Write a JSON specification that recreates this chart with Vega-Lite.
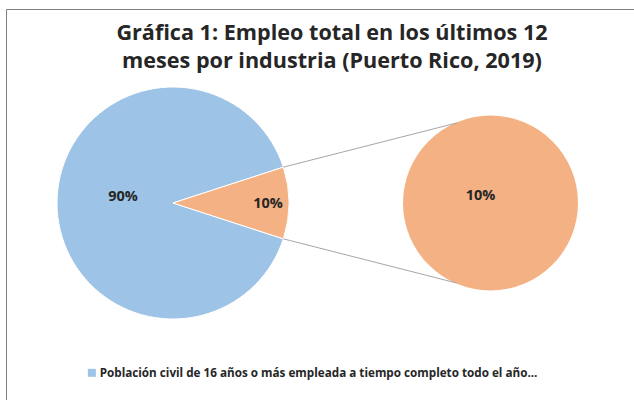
{
  "$schema": "https://vega.github.io/schema/vega-lite/v6.json",
  "width": 628,
  "height": 391,
  "autosize": {"type": "none"},
  "padding": {"left": 6, "top": 9, "right": 0, "bottom": 0},
  "background": "white",
  "config": {
    "view": {"stroke": "#7f7f7f", "strokeWidth": 1},
    "font": "Open Sans"
  },
  "title": {
    "text": ["Gráfica 1: Empleo total en los últimos 12", "meses por industria (Puerto Rico, 2019)"],
    "font": "Open Sans",
    "fontSize": 21.6,
    "fontWeight": "bold",
    "color": "#262626",
    "anchor": "middle",
    "frame": "group",
    "lineHeight": 28,
    "offset": -64,
    "dx": 12
  },
  "datasets": {
    "shares": [
      {"cat": "Población civil de 16 años o más empleada a tiempo completo todo el año...", "share": 0.9},
      {"cat": "Otra población civil empleada", "share": 0.1}
    ]
  },
  "data": {"name": "shares"},
  "encoding": {
    "x": {"datum": 0, "type": "quantitative", "scale": {"domain": [-1.4397, 3.9741], "nice": false, "zero": false}, "axis": null},
    "y": {"datum": 0, "type": "quantitative", "scale": {"domain": [-1.6983, 1.6724], "nice": false, "zero": false}, "axis": null}
  },
  "resolve": {"scale": {"theta": "independent"}},
  "layer": [
    {
      "mark": {"type": "arc", "outerRadius": 116, "stroke": "white", "strokeWidth": 1},
      "encoding": {
        "theta": {"field": "share", "type": "quantitative", "stack": true, "scale": {"range": [1.2566, 7.5398]}},
        "order": {"field": "cat", "sort": "ascending"},
        "color": {
          "field": "cat",
          "type": "nominal",
          "scale": {
            "domain": ["Población civil de 16 años o más empleada a tiempo completo todo el año...", "Otra población civil empleada"],
            "range": ["#9DC3E6", "#F4B183"]
          },
          "legend": {
            "values": ["Población civil de 16 años o más empleada a tiempo completo todo el año..."],
            "title": null,
            "orient": "none",
            "legendX": 80,
            "legendY": 358,
            "symbolType": "square",
            "symbolSize": 64,
            "symbolStrokeWidth": 0,
            "labelFont": "Open Sans",
            "labelFontSize": 11.7,
            "labelFontWeight": "bold",
            "labelColor": "#262626",
            "labelLimit": 600,
            "labelOffset": 2,
            "padding": 0
          }
        }
      }
    },
    {
      "mark": {"type": "text", "radius": 50, "dy": -6, "font": "Open Sans", "fontSize": 14.5, "fontWeight": "bold", "color": "#262626"},
      "encoding": {
        "theta": {"field": "share", "type": "quantitative", "stack": true, "scale": {"range": [1.2566, 7.5398]}},
        "order": {"field": "cat", "sort": "ascending"},
        "text": {"condition": {"test": "datum.share > 0.5", "field": "share", "format": ".0%"}, "value": ""}
      }
    },
    {
      "mark": {"type": "text", "radius": 95, "dy": 1, "font": "Open Sans", "fontSize": 14.5, "fontWeight": "bold", "color": "#262626"},
      "encoding": {
        "theta": {"field": "share", "type": "quantitative", "stack": true, "scale": {"range": [1.2566, 7.5398]}},
        "order": {"field": "cat", "sort": "ascending"},
        "text": {"condition": {"test": "datum.share < 0.5", "field": "share", "format": ".0%"}, "value": ""}
      }
    },
    {
      "transform": [{"filter": "datum.share < 0.5"}],
      "mark": {"type": "arc", "outerRadius": 87.5},
      "encoding": {
        "x": {"datum": 2.737, "type": "quantitative"},
        "theta": {"field": "share", "type": "quantitative", "stack": true},
        "color": {"field": "cat", "type": "nominal"}
      }
    },
    {
      "transform": [{"filter": "datum.share < 0.5"}],
      "mark": {"type": "text", "dx": -10, "dy": -7, "font": "Open Sans", "fontSize": 14.5, "fontWeight": "bold", "color": "#262626"},
      "encoding": {
        "x": {"datum": 2.737, "type": "quantitative"},
        "text": {"field": "share", "type": "quantitative", "format": ".0%"}
      }
    },
    {
      "transform": [{"filter": "datum.share < 0.5"}],
      "mark": {"type": "rule", "color": "#a6a6a6", "strokeWidth": 1},
      "encoding": {
        "x": {"datum": 0.951, "type": "quantitative"},
        "y": {"datum": 0.309, "type": "quantitative"},
        "x2": {"datum": 2.446},
        "y2": {"datum": 0.69}
      }
    },
    {
      "transform": [{"filter": "datum.share < 0.5"}],
      "mark": {"type": "rule", "color": "#a6a6a6", "strokeWidth": 1},
      "encoding": {
        "x": {"datum": 0.951, "type": "quantitative"},
        "y": {"datum": -0.309, "type": "quantitative"},
        "x2": {"datum": 2.446},
        "y2": {"datum": -0.69}
      }
    }
  ]
}
